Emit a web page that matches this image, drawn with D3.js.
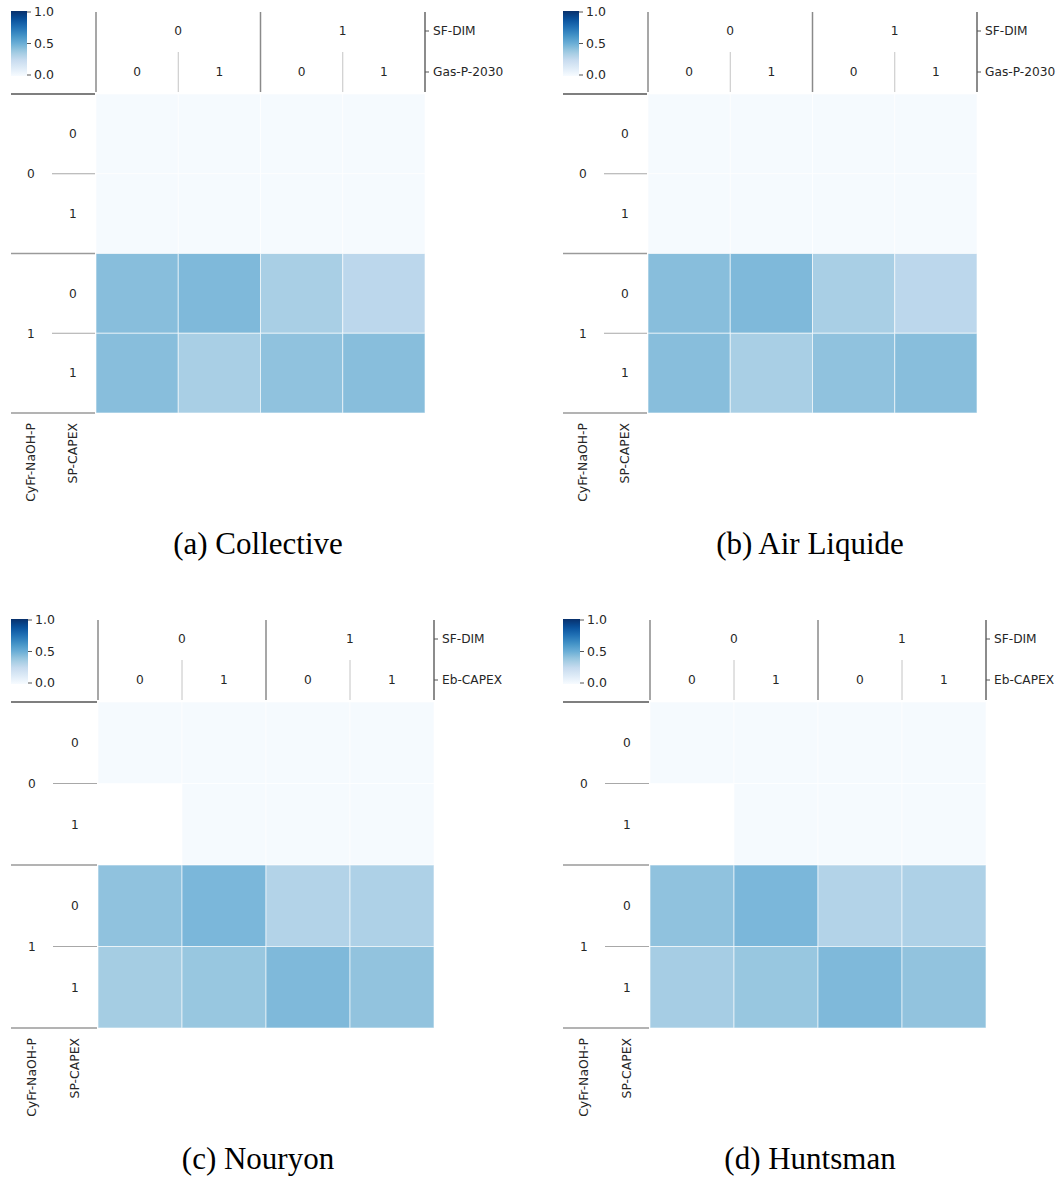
<!DOCTYPE html>
<html><head><meta charset="utf-8">
<script src="https://cdn.jsdelivr.net/npm/d3@7"></script>
<style>body{margin:0;background:#fff}</style>
</head><body>
<script>
// ---- data ----
const panelNames = ["Collective", "Air Liquide", "Nouryon", "Huntsman"];
const panelLetters = ["a", "b", "c", "d"];
const rowFactors = ["CyFr-NaOH-P", "SP-CAPEX"];
const colOuterFactor = "SF-DIM";
const colInnerFactors = ["Gas-P-2030", "Gas-P-2030", "Eb-CAPEX", "Eb-CAPEX"];
const levels = ["0", "1"];
const colorTicks = [0, 0.5, 1];
// rows: (CyFr,SP) = 00,01,10,11 ; cols: (SF-DIM, inner) = 00,01,10,11
const valuesCollective = [
  [0.01, 0.01, 0.01, 0.01],
  [0.01, 0.01, 0.01, 0.01],
  [0.43, 0.45, 0.34, 0.28],
  [0.43, 0.34, 0.41, 0.43]
];
const valuesAirLiquide = [
  [0.01, 0.01, 0.01, 0.01],
  [0.01, 0.01, 0.01, 0.01],
  [0.43, 0.45, 0.34, 0.28],
  [0.43, 0.34, 0.41, 0.43]
];
const valuesNouryon = [
  [0.01, 0.01, 0.01, 0.01],
  [null, 0.01, 0.01, 0.01],
  [0.41, 0.46, 0.31, 0.325],
  [0.353, 0.39, 0.45, 0.405]
];
const valuesHuntsman = [
  [0.01, 0.01, 0.01, 0.01],
  [null, 0.01, 0.01, 0.01],
  [0.41, 0.46, 0.31, 0.325],
  [0.35, 0.39, 0.45, 0.405]
];
const allValues = [valuesCollective, valuesAirLiquide, valuesNouryon, valuesHuntsman];

// ---- layout ----
const layout = [
  {cbx: 11, cbw: 16, x0: 96, x1: 425, y0: 94, y1: 413, outerX: 31, innerX: 73, minorX: 52, capX: 258, capY: 554},
  {cbx: 563, cbw: 16, x0: 648, x1: 977, y0: 94, y1: 413, outerX: 583, innerX: 625, minorX: 604, capX: 810, capY: 554},
  {cbx: 11, cbw: 17, x0: 98, x1: 434, y0: 702, y1: 1028, outerX: 32, innerX: 75, minorX: 53, capX: 258, capY: 1169},
  {cbx: 563, cbw: 17, x0: 650, x1: 986, y0: 702, y1: 1028, outerX: 584, innerX: 627, minorX: 605, capX: 810, capY: 1169}
];

const W = 1063, H = 1178;
const svg = d3.select("body").append("svg").attr("width", W).attr("height", H)
  .style("font-family", "'DejaVu Sans', sans-serif");
const color = d3.scaleSequential(d3.piecewise(d3.interpolateRgb, d3.schemeBlues[9])).domain([0, 1]);
const txt = "#262626";

const defs = svg.append("defs");
const grad = defs.append("linearGradient").attr("id", "cbgrad")
  .attr("x1", 0).attr("y1", 1).attr("x2", 0).attr("y2", 0);
d3.range(0, 1.0001, 0.05).forEach(t => grad.append("stop").attr("offset", t).attr("stop-color", color(t)));

panelNames.forEach((name, p) => {
  const L = layout[p];
  const vals = allValues[p];
  const g = svg.append("g");
  const cols = d3.range(4), rows = d3.range(4);
  const x = d3.scaleBand().domain(cols).range([L.x0, L.x1]);
  const y = d3.scaleBand().domain(rows).range([L.y0, L.y1]);
  const xo = d3.scaleBand().domain([0, 1]).range([L.x0, L.x1]);
  const yo = d3.scaleBand().domain([0, 1]).range([L.y0, L.y1]);

  // cells
  rows.forEach(r => cols.forEach(c => {
    const v = vals[r][c];
    if (v === null) return;
    g.append("rect").attr("x", x(c)).attr("y", y(r))
      .attr("width", x.bandwidth()).attr("height", y.bandwidth())
      .attr("fill", color(v)).attr("stroke", "rgba(255,255,255,0.6)").attr("stroke-width", 1);
  }));

  // colorbar
  const cbTop = L.y0 - 83, cbBot = L.y0 - 18;
  const cy = d3.scaleLinear().domain([0, 1]).range([cbBot - 1, cbTop + 1]);
  g.append("rect").attr("x", L.cbx).attr("y", cbTop).attr("width", L.cbw).attr("height", cbBot - cbTop)
    .attr("fill", "url(#cbgrad)");
  colorTicks.forEach(t => {
    g.append("line").attr("x1", L.cbx + L.cbw).attr("x2", L.cbx + L.cbw + 4)
      .attr("y1", cy(t)).attr("y2", cy(t)).attr("stroke", "#555").attr("stroke-width", 1);
    g.append("text").attr("x", L.cbx + L.cbw + 7).attr("y", cy(t)).attr("dy", "0.35em")
      .attr("font-size", 12.5).attr("fill", txt).text(d3.format(".1f")(t));
  });

  // column header lines
  const hTop = L.y0 - 82, hBot = L.y0 - 2;
  [L.x0, xo(1), L.x1].forEach((xx, i) => {
    g.append("line").attr("x1", xx).attr("x2", xx).attr("y1", hTop).attr("y2", hBot)
      .attr("stroke", i === 2 ? "#666" : "#8a8a8a").attr("stroke-width", 1.5);
  });
  [0, 1].forEach(o => {
    const xm = xo(o) + xo.bandwidth() / 2;
    g.append("line").attr("x1", xm).attr("x2", xm).attr("y1", L.y0 - 42).attr("y2", hBot)
      .attr("stroke", "#c4c4c4").attr("stroke-width", 1);
    g.append("text").attr("x", xm).attr("y", L.y0 - 63).attr("dy", "0.35em").attr("text-anchor", "middle")
      .attr("font-size", 12.2).attr("fill", txt).text(levels[o]);
  });
  cols.forEach(c => {
    g.append("text").attr("x", x(c) + x.bandwidth() / 2).attr("y", L.y0 - 22).attr("dy", "0.35em")
      .attr("text-anchor", "middle").attr("font-size", 12.2).attr("fill", txt).text(levels[c % 2]);
  });
  // right side factor labels
  [[L.y0 - 63, colOuterFactor], [L.y0 - 22, colInnerFactors[p]]].forEach(([yy, lab]) => {
    g.append("line").attr("x1", L.x1).attr("x2", L.x1 + 4).attr("y1", yy).attr("y2", yy)
      .attr("stroke", "#555").attr("stroke-width", 1);
    g.append("text").attr("x", L.x1 + 8).attr("y", yy).attr("dy", "0.35em")
      .attr("font-size", 12.2).attr("fill", txt).text(lab);
  });

  // row header lines
  [L.y0, yo(1), L.y1].forEach((yy, i) => {
    g.append("line").attr("x1", L.cbx).attr("x2", L.x0 - 1).attr("y1", yy).attr("y2", yy)
      .attr("stroke", i === 0 ? "#555" : "#9a9a9a").attr("stroke-width", 1.5);
  });
  [0, 1].forEach(o => {
    const ym = yo(o) + yo.bandwidth() / 2;
    g.append("line").attr("x1", L.minorX).attr("x2", L.x0 - 1).attr("y1", ym).attr("y2", ym)
      .attr("stroke", "#a8a8a8").attr("stroke-width", 1);
    g.append("text").attr("x", L.outerX).attr("y", ym).attr("dy", "0.35em").attr("text-anchor", "middle")
      .attr("font-size", 12.2).attr("fill", txt).text(levels[o]);
  });
  rows.forEach(r => {
    g.append("text").attr("x", L.innerX).attr("y", y(r) + y.bandwidth() / 2).attr("dy", "0.35em")
      .attr("text-anchor", "middle").attr("font-size", 12.2).attr("fill", txt).text(levels[r % 2]);
  });
  // rotated factor labels
  [[L.outerX, rowFactors[0]], [L.innerX, rowFactors[1]]].forEach(([xx, lab]) => {
    g.append("text").attr("transform", `translate(${xx},${L.y1 + 10}) rotate(-90)`)
      .attr("dy", "0.35em").attr("text-anchor", "end")
      .attr("font-size", 12.4).attr("fill", txt).text(lab);
  });

  // caption
  svg.append("text").attr("x", L.capX).attr("y", L.capY).attr("text-anchor", "middle")
    .style("font-family", "'Liberation Serif', 'Times New Roman', serif")
    .attr("font-size", 31).attr("fill", "#000").text(`(${panelLetters[p]}) ${name}`);
});
</script>
</body></html>
